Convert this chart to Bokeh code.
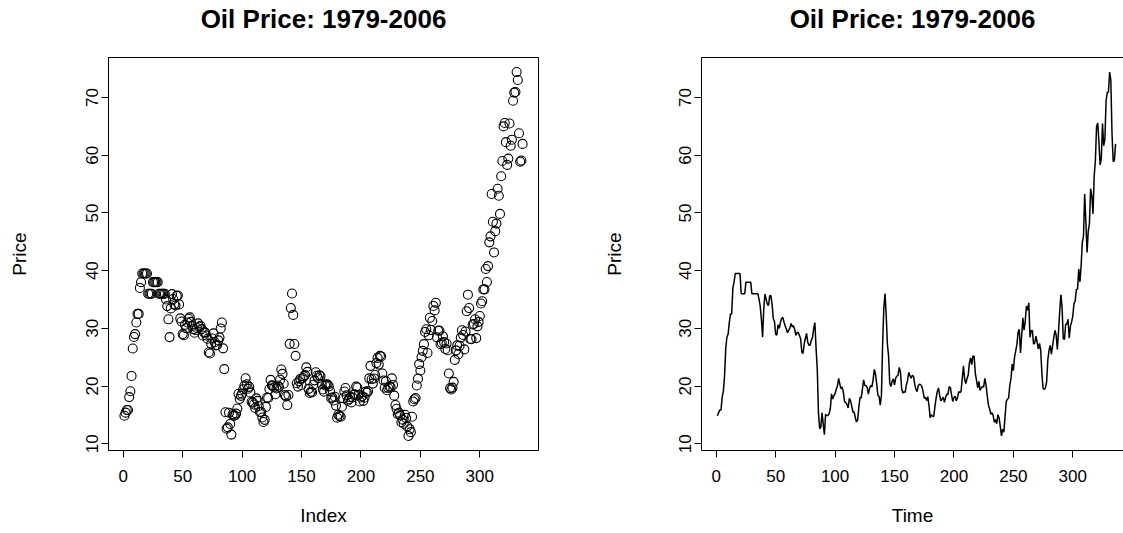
from bokeh.plotting import figure
from bokeh.layouts import row
from bokeh.models import FixedTicker, LinearAxis, Title
from bokeh.embed import file_html
from bokeh.resources import INLINE

# Monthly crude oil spot price (USD per barrel), January 1979 - December 2006
price_1979_1985 = [
    14.85, 15.39, 15.85, 15.85, 18.08, 19.10, 21.75, 26.50, 28.50, 29.00, 31.00, 32.50,
    32.50, 37.00, 38.00, 39.50, 39.50, 39.50, 39.50, 39.50, 36.00, 36.00, 36.00, 36.00,
    38.00, 38.00, 38.00, 38.00, 38.00, 36.00, 36.00, 36.00, 36.00, 36.00, 36.00, 35.00,
    33.85, 31.56, 28.48, 33.45, 35.93, 35.07, 34.16, 33.95, 35.63, 35.68, 34.15, 31.72,
    31.18, 29.00, 28.81, 30.61, 30.00, 31.00, 31.66, 31.90, 31.11, 30.41, 29.84, 29.24,
    29.70, 30.05, 30.85, 30.26, 30.45, 29.86, 28.76, 29.30, 29.26, 28.75, 28.20, 25.86,
    25.64, 27.31, 28.24, 29.13, 27.59, 27.05, 27.12, 27.91, 28.40, 29.98, 31.00, 26.53,
]
price_1986_1992 = [
    22.93, 15.46, 12.61, 12.84, 15.38, 13.43, 11.58, 15.10, 14.87, 14.90, 15.22, 16.11,
    18.65, 17.75, 18.30, 18.68, 19.44, 20.07, 21.34, 20.31, 19.53, 19.86, 18.85, 17.28,
    17.13, 16.80, 16.20, 17.86, 17.42, 16.53, 15.50, 15.52, 14.54, 13.77, 14.14, 16.38,
    18.02, 17.94, 19.48, 21.07, 20.12, 20.05, 19.78, 18.58, 19.59, 20.10, 19.86, 21.10,
    22.86, 22.11, 20.39, 18.43, 18.20, 16.70, 18.45, 27.31, 33.51, 36.04, 32.33, 27.28,
    25.23, 20.48, 19.90, 20.83, 21.23, 20.19, 21.40, 21.69, 21.89, 23.23, 22.46, 19.50,
    18.79, 19.01, 18.92, 20.23, 20.98, 22.39, 21.78, 21.34, 21.88, 21.69, 20.34, 19.41,
]
price_1993_1999 = [
    19.03, 20.09, 20.32, 20.25, 19.95, 19.09, 17.89, 18.01, 17.50, 18.15, 16.61, 14.52,
    15.03, 14.78, 14.68, 16.42, 17.89, 19.06, 19.66, 18.38, 17.45, 17.72, 18.07, 17.16,
    18.04, 18.57, 18.54, 19.90, 19.74, 18.45, 17.33, 18.02, 18.23, 17.43, 17.99, 19.03,
    18.85, 19.09, 21.33, 23.50, 21.17, 20.42, 21.30, 21.90, 23.97, 24.88, 23.71, 25.23,
    25.13, 22.18, 20.97, 19.70, 20.82, 19.26, 19.66, 19.95, 19.80, 21.33, 20.19, 18.33,
    16.72, 16.06, 15.12, 15.35, 14.91, 13.72, 14.17, 13.47, 15.03, 14.46, 13.00, 11.35,
    12.52, 12.01, 14.68, 17.31, 17.72, 17.92, 20.10, 21.28, 23.80, 22.69, 25.00, 26.10,
]
price_2000_2006 = [
    27.26, 29.37, 29.84, 25.72, 28.79, 31.82, 29.70, 31.26, 33.88, 33.11, 34.42, 28.44,
    29.59, 29.61, 27.24, 27.49, 28.63, 27.60, 26.42, 27.37, 26.20, 22.17, 19.64, 19.39,
    19.72, 20.72, 24.53, 26.18, 27.04, 25.52, 26.97, 28.39, 29.66, 28.84, 26.35, 29.46,
    32.95, 35.83, 33.51, 28.17, 28.11, 30.66, 30.75, 31.57, 28.31, 30.34, 31.11, 32.13,
    34.31, 34.69, 36.74, 36.75, 40.28, 38.03, 40.78, 44.90, 45.94, 53.28, 48.47, 43.15,
    46.84, 48.15, 54.19, 52.98, 49.83, 56.35, 59.00, 64.99, 65.59, 62.26, 58.32, 59.41,
    65.49, 61.63, 62.69, 69.44, 70.84, 70.95, 74.41, 73.04, 63.80, 58.89, 59.08, 61.96,
]

price = price_1979_1985 + price_1986_1992 + price_1993_1999 + price_2000_2006
index = list(range(1, len(price) + 1))

title_text = "Oil Price: 1979-2006"
x_ticks = [0, 50, 100, 150, 200, 250, 300]
y_ticks = [10, 20, 30, 40, 50, 60, 70]

FONT = "Liberation Sans"


def padded(lo, hi, frac=0.04):
    span = hi - lo
    return lo - frac * span, hi + frac * span


x_lo, x_hi = padded(min(index), max(index))
y_lo, y_hi = padded(min(price), max(price))

LEFT_FRAME_W = 430
RIGHT_FRAME_W = 422
x_hi_right = x_lo + RIGHT_FRAME_W * (x_hi - x_lo) / LEFT_FRAME_W


def style_axes(p, xlabel, ylab_standoff):
    xax = p.below[0]
    yax = p.left[0]
    for ax in (xax, yax):
        ax.axis_line_color = "black"
        ax.major_tick_line_color = "black"
        ax.major_tick_in = 0
        ax.major_tick_out = 7
        ax.minor_tick_line_color = None
        ax.major_label_text_font = FONT
        ax.major_label_text_font_size = "17px"
        ax.major_label_text_color = "black"
        ax.axis_label_text_font = FONT
        ax.axis_label_text_font_size = "19px"
        ax.axis_label_text_font_style = "normal"
        ax.axis_label_text_color = "black"
    xax.ticker = FixedTicker(ticks=x_ticks)
    yax.ticker = FixedTicker(ticks=y_ticks)
    xax.axis_label = xlabel
    yax.axis_label = "Price"
    xax.major_label_standoff = 12
    xax.axis_label_standoff = 20
    yax.major_label_standoff = 3
    yax.major_label_orientation = "vertical"
    yax.axis_label_standoff = ylab_standoff
    p.grid.visible = False
    p.background_fill_color = "white"
    p.border_fill_color = "white"


def add_top(p, edge_color):
    # top edge of the frame (no ticks), then a blank gap row, then the title
    edge = LinearAxis(major_tick_line_color=None, minor_tick_line_color=None,
                      major_label_text_font_size="0px", axis_line_color=edge_color,
                      major_tick_out=0, major_tick_in=0, major_label_standoff=0,
                      axis_label=None, ticker=FixedTicker(ticks=[]))
    p.add_layout(edge, "above")
    p.add_layout(Title(text=" ", text_font=FONT, text_font_size="20px",
                       align="center", standoff=0), "above")
    p.add_layout(Title(text=title_text, text_font=FONT, text_font_size="26px",
                       text_font_style="bold", text_color="black",
                       align="center", standoff=0), "above")


# Left: the prices against their position in the series
p1 = figure(width=600, height=533, output_backend="svg", toolbar_location=None,
            x_range=(x_lo, x_hi), y_range=(y_lo, y_hi),
            min_border_left=108, min_border_right=62, min_border_top=57,
            min_border_bottom=83)
p1.scatter(index, price, marker="circle", size=9, fill_color=None,
           line_color="black", line_width=1.1)
p1.outline_line_color = "black"
p1.outline_line_width = 1
style_axes(p1, "Index", 54)
add_top(p1, None)

# Right: the same prices as a time series line
p2 = figure(width=523, height=533, output_backend="svg", toolbar_location=None,
            x_range=(x_lo, x_hi_right), y_range=(y_lo, y_hi),
            min_border_left=101, min_border_right=0, min_border_top=57,
            min_border_bottom=83)
p2.line(index, price, line_color="black", line_width=1.5)
p2.outline_line_color = None
style_axes(p2, "Time", 52)
add_top(p2, "black")

layout = row(p1, p2)
open("out.html", "w").write(file_html(layout, INLINE))
